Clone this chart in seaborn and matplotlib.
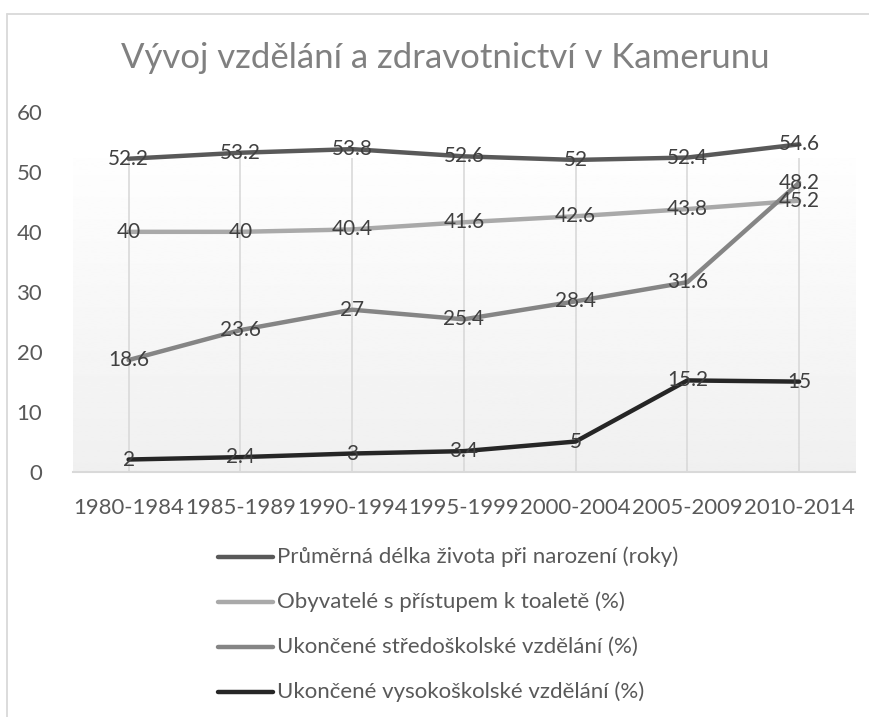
import numpy as np
import pandas as pd
import matplotlib
matplotlib.use("Agg")
import matplotlib.pyplot as plt
from matplotlib.lines import Line2D
import seaborn as sns

# ---- data ----
periods = ["1980-1984", "1985-1989", "1990-1994", "1995-1999", "2000-2004", "2005-2009", "2010-2014"]
series_names = [
    "Průměrná délka života při narození (roky)",
    "Obyvatelé s přístupem k toaletě (%)",
    "Ukončené středoškolské vzdělání (%)",
    "Ukončené vysokoškolské vzdělání (%)",
]
life_expectancy = [52.2, 53.2, 53.8, 52.6, 52, 52.4, 54.6]
toilet_access = [40, 40, 40.4, 41.6, 42.6, 43.8, 45.2]
secondary_edu = [18.6, 23.6, 27, 25.4, 28.4, 31.6, 48.2]
tertiary_edu = [2, 2.4, 3, 3.4, 5, 15.2, 15]
title = "Vývoj vzdělání a zdravotnictví v Kamerunu"

colors = ["#595959", "#a9a9a9", "#858585", "#262626"]

all_values = [life_expectancy, toilet_access, secondary_edu, tertiary_edu]
df = pd.concat(
    [pd.DataFrame({"period": periods, "value": v, "series": n}) for n, v in zip(series_names, all_values)],
    ignore_index=True,
)

sns.set_theme(style="white")
plt.rcParams["font.family"] = ["Lato", "DejaVu Sans"]

W, H = 869, 717
fig = plt.figure(figsize=(W / 100, H / 100), dpi=100)
fig.patch.set_facecolor("white")

left, right = 72.7, 855
top_px, bot_px = 112, 471.5
ax = fig.add_axes([left / W, 1 - bot_px / H, (right - left) / W, (bot_px - top_px) / H])
ax.set_facecolor("none")

renderer = fig.canvas.get_renderer()


def size_for(text, target_w, base=20):
    t = fig.text(0, 0, text, fontsize=base)
    w = t.get_window_extent(renderer).width
    t.remove()
    return base * target_w / w


tick_fs = size_for("1980-1984", 111)
label_fs = size_for("52.6", 41)
title_fs = size_for(title, 650)
legend_fs = size_for(series_names[0], 401)

sns.lineplot(
    data=df, x="period", y="value", hue="series", palette=colors,
    linewidth=3.2, legend=False, sort=False, ax=ax, zorder=3,
)
for ln in ax.get_lines():
    ln.set_solid_capstyle("round")
    ln.set_solid_joinstyle("round")

ax.set_xlim(-0.5, len(periods) - 0.5)
ax.set_ylim(0, 60)
ax.set_yticks(range(0, 61, 10))
ax.set_xlabel("")
ax.set_ylabel("")

# plot-area gradient fill and vertical gridlines
fill_top = 52.3
grad = np.linspace(0.94, 0.995, 256).reshape(-1, 1)
ax.imshow(grad, cmap="gray", vmin=0, vmax=1, aspect="auto", origin="lower",
          extent=(-0.5, len(periods) - 0.5, 0, fill_top), zorder=0, interpolation="bilinear")
ax.vlines(range(len(periods)), 0, fill_top, colors="#d9d9d9", linewidth=1.2, zorder=1)
ax.grid(False)

for s in ["top", "right", "left"]:
    ax.spines[s].set_visible(False)
ax.spines["bottom"].set_color("#d9d9d9")
ax.spines["bottom"].set_linewidth(1.5)
ax.spines["bottom"].set_zorder(2)

ax.tick_params(axis="both", length=0, labelsize=tick_fs, labelcolor="#595959")
ax.tick_params(axis="y", pad=22)
ax.tick_params(axis="x", pad=19)

# data labels
for vals in all_values:
    for i, v in enumerate(vals):
        ax.text(i, v, f"{v:g}", ha="center", va="center", fontsize=label_fs,
                color="#404040", zorder=5)

# title
fig.text(445 / W, 1 - 68 / H, title, ha="center", va="baseline",
         fontsize=title_fs, color="#808080")

# legend (manual, one entry per row)
leg_y = [557, 602, 647, 692]
for name, col, y in zip(series_names, colors, leg_y):
    fig.add_artist(Line2D([218 / W, 273 / W], [1 - y / H, 1 - y / H], color=col,
                          linewidth=3.2, solid_capstyle="round", transform=fig.transFigure))
    fig.text(277 / W, 1 - y / H, name, ha="left", va="center", fontsize=legend_fs, color="#595959")

# chart border (visible left and top edges)
fig.add_artist(Line2D([7 / W, 7 / W], [0, 1 - 14 / H], color="#d9d9d9", linewidth=1.3,
                      transform=fig.transFigure))
fig.add_artist(Line2D([7 / W, 1], [1 - 14 / H, 1 - 14 / H], color="#d9d9d9", linewidth=1.3,
                      transform=fig.transFigure))

fig.savefig("out.png", dpi=100)
